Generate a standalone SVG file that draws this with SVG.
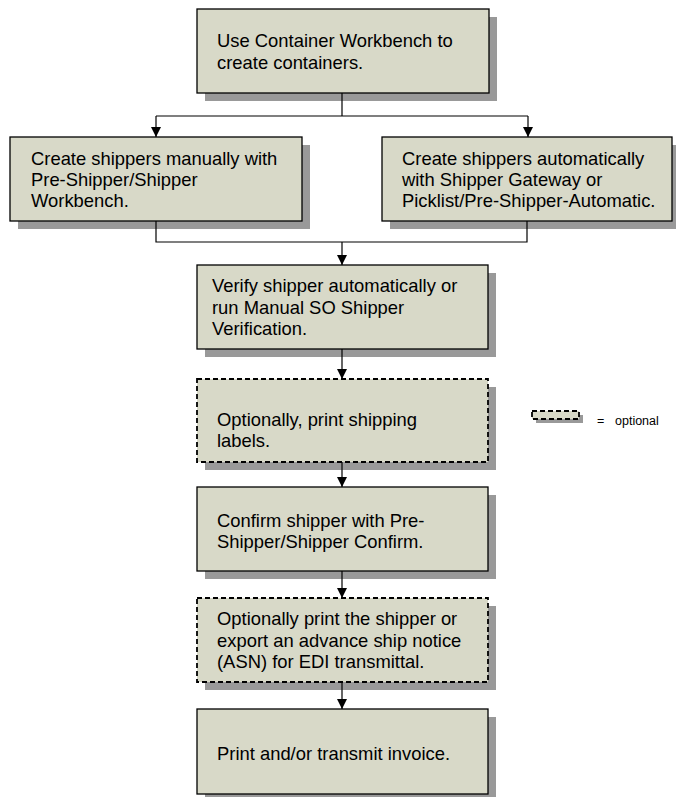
<svg xmlns="http://www.w3.org/2000/svg" width="676" height="797" viewBox="0 0 676 797">
<defs>
<style>
.box{fill:#d8d9c8;stroke:#000;stroke-width:1.3}
.dash{stroke-dasharray:5,3;stroke-width:1.8}
.sh{fill:#999}
.t{font-family:"Liberation Sans",Arial,sans-serif;font-size:18.4px;fill:#000}
.lg{font-family:"Liberation Sans",Arial,sans-serif;font-size:12.5px;fill:#000}
.c{fill:none;stroke:#000;stroke-width:1.2}
</style>
<marker id="ah" markerWidth="10" markerHeight="11" refX="10" refY="5" orient="auto" markerUnits="userSpaceOnUse" viewBox="0 0 10 10">
<path d="M0,0 L10,5 L0,10 Z" fill="#000"/>
</marker>
</defs>
<rect width="676" height="797" fill="#fff"/>

<g id="n1">
<rect class="sh" x="205" y="17" width="292" height="84"/>
<rect class="box" x="197" y="9" width="292" height="84"/>
<text class="t" x="217" y="47">Use Container Workbench to</text>
<text class="t" x="217" y="68.5">create containers.</text>
</g>

<g id="n2">
<rect class="sh" x="18" y="145" width="292" height="84"/>
<rect class="box" x="10" y="137" width="292" height="84"/>
<text class="t" x="31" y="164.5">Create shippers manually with</text>
<text class="t" x="31" y="185.5">Pre-Shipper/Shipper</text>
<text class="t" x="31" y="206.5">Workbench.</text>
</g>

<g id="n3">
<rect class="sh" x="390" y="145" width="290" height="84"/>
<rect class="box" x="382" y="137" width="290" height="84"/>
<text class="t" x="402" y="164.5">Create shippers automatically</text>
<text class="t" x="402" y="185.5">with Shipper Gateway or</text>
<text class="t" x="402" y="206.5">Picklist/Pre-Shipper-Automatic.</text>
</g>

<g id="n4">
<rect class="sh" x="205" y="273" width="291" height="84"/>
<rect class="box" x="197" y="265" width="291" height="84"/>
<text class="t" x="212" y="292">Verify shipper automatically or</text>
<text class="t" x="212" y="313.5">run Manual SO Shipper</text>
<text class="t" x="212" y="335">Verification.</text>
</g>

<g id="n5">
<rect class="sh" x="205" y="387" width="291" height="83"/>
<rect class="box dash" x="197" y="379" width="291" height="83"/>
<text class="t" x="217" y="426">Optionally, print shipping</text>
<text class="t" x="217" y="447">labels.</text>
</g>

<g id="n6">
<rect class="sh" x="205" y="495" width="291" height="84"/>
<rect class="box" x="197" y="487" width="291" height="84"/>
<text class="t" x="217" y="527">Confirm shipper with Pre-</text>
<text class="t" x="217" y="548">Shipper/Shipper Confirm.</text>
</g>

<g id="n7">
<rect class="sh" x="205" y="606" width="291" height="84"/>
<rect class="box dash" x="197" y="598" width="291" height="84"/>
<text class="t" x="217" y="625">Optionally print the shipper or</text>
<text class="t" x="217" y="646.5">export an advance ship notice</text>
<text class="t" x="217" y="668">(ASN) for EDI transmittal.</text>
</g>

<g id="n8">
<rect class="sh" x="205" y="717" width="291" height="85"/>
<rect class="box" x="197" y="709" width="291" height="85"/>
<text class="t" x="217" y="759.5">Print and/or transmit invoice.</text>
</g>

<g id="legend">
<rect class="sh" x="536" y="415" width="47" height="8"/>
<rect class="box dash" x="532" y="411" width="47" height="8"/>
<text class="lg" x="597" y="424.5">=<tspan x="615">optional</tspan></text>
</g>

<g id="connectors">
<path class="c" d="M342,93 V116"/>
<path class="c" d="M156,116 H528"/>
<path class="c" d="M156,116 V137" marker-end="url(#ah)"/>
<path class="c" d="M528,116 V137" marker-end="url(#ah)"/>
<path class="c" d="M156,221 V242 H527 V221"/>
<path class="c" d="M342,242 V265" marker-end="url(#ah)"/>
<path class="c" d="M342,349 V379" marker-end="url(#ah)"/>
<path class="c" d="M342,462 V487" marker-end="url(#ah)"/>
<path class="c" d="M342,571 V598" marker-end="url(#ah)"/>
<path class="c" d="M342,682 V709" marker-end="url(#ah)"/>
</g>
</svg>
